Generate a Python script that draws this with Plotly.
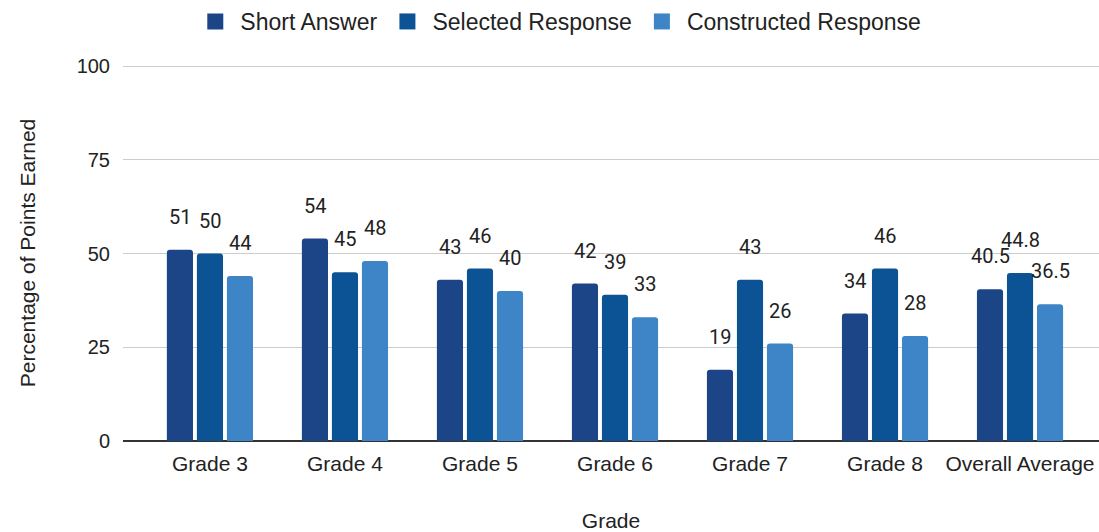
import plotly.graph_objects as go

# Data
grades = ["Grade 3", "Grade 4", "Grade 5", "Grade 6", "Grade 7", "Grade 8", "Overall Average"]
short_answer = [51, 54, 43, 42, 19, 34, 40.5]
selected_response = [50, 45, 46, 39, 43, 46, 44.8]
constructed_response = [44, 48, 40, 33, 26, 28, 36.5]

series_names = ["Short Answer", "Selected Response", "Constructed Response"]
series_values = [short_answer, selected_response, constructed_response]
series_colors = ["#1c4587", "#0b5394", "#3d85c6"]

# pixel shifts for the value labels of each series (group layout)
label_xshift = [-30, 0, 30]

fig = go.Figure()

for name, vals, color in zip(series_names, series_values, series_colors):
    fig.add_trace(
        go.Bar(
            name=name,
            x=grades,
            y=vals,
            marker=dict(color=color, line=dict(width=0)),
            showlegend=False,
            hoverinfo="x+y+name",
        )
    )

# legend entries only (bigger square swatches than the bar default)
for name, color in zip(series_names, series_colors):
    fig.add_trace(
        go.Scatter(
            name=name,
            x=[None],
            y=[None],
            mode="markers",
            marker=dict(symbol="square", size=20, color=color),
            showlegend=True,
        )
    )

# value labels sitting a bit above each bar
annotations = []
for vals, dx in zip(series_values, label_xshift):
    for g, v in zip(grades, vals):
        annotations.append(
            dict(
                x=g,
                y=v,
                xref="x",
                yref="y",
                text=f"{v:g}",
                showarrow=False,
                xshift=dx,
                yshift=33,
                font=dict(family="Roboto", size=20, color="#222222"),
            )
        )

fig.update_layout(
    width=1099,
    height=532,
    margin={"l": 123, "r": 0, "t": 65, "b": 91, "autoexpand": False},
    paper_bgcolor="white",
    plot_bgcolor="white",
    barmode="group",
    bargap=0.333,
    bargroupgap=0.13,
    barcornerradius=3,
    font=dict(family="Liberation Sans, Arial, sans-serif", size=20, color="#222222"),
    legend=dict(
        orientation="h",
        x=0.508,
        xanchor="center",
        xref="container",
        y=1.0,
        yanchor="top",
        yref="container",
        font=dict(size=23),
        itemsizing="trace",
        itemwidth=40,
        traceorder="normal",
    ),
    annotations=annotations,
    xaxis=dict(
        range=[-0.644, 6.585],
        showgrid=False,
        ticks="",
        ticklabelstandoff=8,
        title=dict(text="Grade", standoff=39, font=dict(size=21)),
        tickfont=dict(size=21),
        showline=False,
    ),
    yaxis=dict(
        range=[0, 100.3],
        tickvals=[0, 25, 50, 75, 100],
        gridcolor="#cccccc",
        gridwidth=1,
        zeroline=True,
        zerolinecolor="#333333",
        zerolinewidth=2,
        ticks="",
        ticklabelstandoff=12,
        tickfont=dict(size=20),
        title=dict(text="Percentage of Points Earned", standoff=35, font=dict(size=21)),
    ),
)

# page has a default 8px body margin, drop it so the chart sits at 0,0
fig.write_html(
    "out.html",
    config={"displayModeBar": False},
    post_script="document.body.style.margin='0';",
)
